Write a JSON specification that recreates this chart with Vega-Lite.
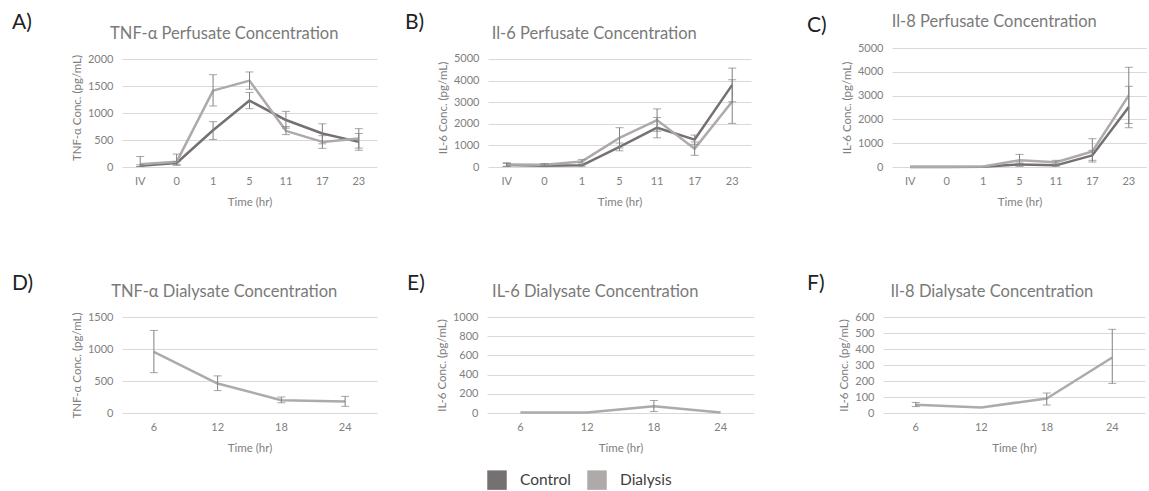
{
  "$schema": "https://vega.github.io/schema/vega-lite/v6.json",
  "padding": {"left": 12, "top": 11, "right": 0, "bottom": 0},
  "background": "white",
  "datasets": {
    "d": [
      {"p": "A", "s": "Control", "t": "IV", "m": 25, "lo": 10, "hi": 40},
      {"p": "A", "s": "Control", "t": "0", "m": 75, "lo": 50, "hi": 100},
      {"p": "A", "s": "Control", "t": "1", "m": 680, "lo": 510, "hi": 840},
      {"p": "A", "s": "Control", "t": "5", "m": 1230, "lo": 1080, "hi": 1380},
      {"p": "A", "s": "Control", "t": "11", "m": 870, "lo": 720, "hi": 1030},
      {"p": "A", "s": "Control", "t": "17", "m": 620, "lo": 430, "hi": 800},
      {"p": "A", "s": "Control", "t": "23", "m": 465, "lo": 310, "hi": 620},
      {"p": "A", "s": "Dialysis", "t": "IV", "m": 50, "lo": 10, "hi": 195},
      {"p": "A", "s": "Dialysis", "t": "0", "m": 95, "lo": 30, "hi": 240},
      {"p": "A", "s": "Dialysis", "t": "1", "m": 1415, "lo": 1130, "hi": 1710},
      {"p": "A", "s": "Dialysis", "t": "5", "m": 1600, "lo": 1440, "hi": 1760},
      {"p": "A", "s": "Dialysis", "t": "11", "m": 670, "lo": 600, "hi": 750},
      {"p": "A", "s": "Dialysis", "t": "17", "m": 465, "lo": 345, "hi": 580},
      {"p": "A", "s": "Dialysis", "t": "23", "m": 530, "lo": 350, "hi": 710},
      {"p": "B", "s": "Control", "t": "IV", "m": 90, "lo": 20, "hi": 160},
      {"p": "B", "s": "Control", "t": "0", "m": 60, "lo": 20, "hi": 100},
      {"p": "B", "s": "Control", "t": "1", "m": 80, "lo": 40, "hi": 120},
      {"p": "B", "s": "Control", "t": "5", "m": 930, "lo": 750, "hi": 1110},
      {"p": "B", "s": "Control", "t": "11", "m": 1820, "lo": 1350, "hi": 2290},
      {"p": "B", "s": "Control", "t": "17", "m": 1270, "lo": 1050, "hi": 1480},
      {"p": "B", "s": "Control", "t": "23", "m": 3800, "lo": 3020, "hi": 4580},
      {"p": "B", "s": "Dialysis", "t": "IV", "m": 120, "lo": 40, "hi": 200},
      {"p": "B", "s": "Dialysis", "t": "0", "m": 100, "lo": 40, "hi": 160},
      {"p": "B", "s": "Dialysis", "t": "1", "m": 260, "lo": 180, "hi": 340},
      {"p": "B", "s": "Dialysis", "t": "5", "m": 1350, "lo": 880, "hi": 1820},
      {"p": "B", "s": "Dialysis", "t": "11", "m": 2170, "lo": 1650, "hi": 2690},
      {"p": "B", "s": "Dialysis", "t": "17", "m": 850, "lo": 540, "hi": 1160},
      {"p": "B", "s": "Dialysis", "t": "23", "m": 3030, "lo": 2020, "hi": 4040},
      {"p": "C", "s": "Control", "t": "IV", "m": 5, "lo": null, "hi": null},
      {"p": "C", "s": "Control", "t": "0", "m": 5, "lo": null, "hi": null},
      {"p": "C", "s": "Control", "t": "1", "m": 10, "lo": null, "hi": null},
      {"p": "C", "s": "Control", "t": "5", "m": 110, "lo": 50, "hi": 170},
      {"p": "C", "s": "Control", "t": "11", "m": 70, "lo": 30, "hi": 110},
      {"p": "C", "s": "Control", "t": "17", "m": 490, "lo": 280, "hi": 700},
      {"p": "C", "s": "Control", "t": "23", "m": 2520, "lo": 1650, "hi": 3390},
      {"p": "C", "s": "Dialysis", "t": "IV", "m": 10, "lo": null, "hi": null},
      {"p": "C", "s": "Dialysis", "t": "0", "m": 10, "lo": null, "hi": null},
      {"p": "C", "s": "Dialysis", "t": "1", "m": 20, "lo": null, "hi": null},
      {"p": "C", "s": "Dialysis", "t": "5", "m": 280, "lo": 30, "hi": 530},
      {"p": "C", "s": "Dialysis", "t": "11", "m": 200, "lo": 120, "hi": 280},
      {"p": "C", "s": "Dialysis", "t": "17", "m": 650, "lo": 210, "hi": 1190},
      {"p": "C", "s": "Dialysis", "t": "23", "m": 3010, "lo": 1830, "hi": 4190},
      {"p": "D", "s": "Dialysis", "t": "6", "m": 955, "lo": 630, "hi": 1290},
      {"p": "D", "s": "Dialysis", "t": "12", "m": 460, "lo": 350, "hi": 580},
      {"p": "D", "s": "Dialysis", "t": "18", "m": 200, "lo": 160, "hi": 250},
      {"p": "D", "s": "Dialysis", "t": "24", "m": 180, "lo": 105, "hi": 260},
      {"p": "E", "s": "Dialysis", "t": "6", "m": 5, "lo": null, "hi": null},
      {"p": "E", "s": "Dialysis", "t": "12", "m": 5, "lo": null, "hi": null},
      {"p": "E", "s": "Dialysis", "t": "18", "m": 70, "lo": 15, "hi": 130},
      {"p": "E", "s": "Dialysis", "t": "24", "m": 5, "lo": null, "hi": null},
      {"p": "F", "s": "Dialysis", "t": "6", "m": 52, "lo": 40, "hi": 66},
      {"p": "F", "s": "Dialysis", "t": "12", "m": 35, "lo": null, "hi": null},
      {"p": "F", "s": "Dialysis", "t": "18", "m": 91, "lo": 50, "hi": 125},
      {"p": "F", "s": "Dialysis", "t": "24", "m": 347, "lo": 185, "hi": 523}
    ]
  },
  "data": {"name": "d"},
  "config": {
    "font": "Lato",
    "view": {"stroke": null},
    "axis": {"labelFont": "Lato", "titleFont": "Lato", "labelFontSize": 11, "titleFontSize": 11.5, "labelColor": "#808080", "titleColor": "#808080", "titleFontWeight": "normal", "ticks": false, "domain": false, "gridColor": "#d9d9d9", "gridWidth": 1},
    "axisX": {"grid": false, "labelAngle": 0, "labelPadding": 8, "titlePadding": 10},
    "axisY": {"grid": true, "labelPadding": 9, "titlePadding": 5},
    "title": {"font": "Lato", "fontSize": 16.5, "fontWeight": "normal", "color": "#7a7a7a"},
    "legend": {"orient": "bottom", "direction": "horizontal", "title": null, "symbolType": "square", "symbolSize": 380, "labelFontSize": 15.5, "labelColor": "#404040", "labelFont": "Lato", "columnPadding": 16, "labelOffset": 13, "offset": 16, "layout": {"bottom": {"anchor": "middle"}}}
  },
  "resolve": {"scale": {"color": "shared"}, "legend": {"color": "shared"}},
  "spacing": 64,
  "vconcat": [
    {
      "spacing": 56,
      "resolve": {"scale": {"color": "shared"}, "legend": {"color": "shared"}},
      "hconcat": [
        {
          "spacing": 28,
          "resolve": {"scale": {"color": "shared"}, "legend": {"color": "shared"}},
          "hconcat": [
            {
              "title": {"text": "A)", "anchor": "start", "frame": "group", "dx": -110, "dy": 11, "fontSize": 21, "color": "#222222", "font": "Lato"},
              "vconcat": [
                {
                  "width": 255, "height": 119,
                  "title": {"text": "TNF-α Perfusate Concentration", "frame": "bounds", "offset": 6},
                  "transform": [{"filter": "datum.p === 'A'"}],
                  "encoding": {"x": {"field": "t", "type": "ordinal", "sort": ["IV", "0", "1", "5", "11", "17", "23"], "title": "Time (hr)"}},
                  "layer": [
                    {"mark": {"type": "line", "strokeWidth": 2.5, "strokeJoin": "round"},
                     "encoding": {
                       "y": {"field": "m", "type": "quantitative", "title": "TNF-α Conc. (pg/mL)", "scale": {"domain": [0, 2204], "nice": false}, "axis": {"values": [0, 500, 1000, 1500, 2000], "format": "d"}},
                       "color": {"field": "s", "type": "nominal", "scale": {"domain": ["Control", "Dialysis"], "range": ["#767171", "#AEAAAA"]},
                                 "legend": {"encode": {"symbols": {"update": {"fill": {"scale": "color", "field": "value"}, "strokeWidth": {"value": 0}}}}}}
                     }},
                    {"transform": [{"filter": "isValid(datum.lo)"}],
                     "mark": {"type": "errorbar", "ticks": true, "size": 8, "thickness": 1, "color": "#808080"},
                     "encoding": {"y": {"field": "lo", "type": "quantitative", "title": "TNF-α Conc. (pg/mL)", "scale": {"domain": [0, 2204], "nice": false}, "axis": {"values": [0, 500, 1000, 1500, 2000], "format": "d"}}, "y2": {"field": "hi"}}}
                  ]
                }
              ]
            },
            {
              "title": {"text": "B)", "anchor": "start", "frame": "group", "dx": -83, "dy": 11, "fontSize": 21, "color": "#222222", "font": "Lato"},
              "vconcat": [
                {
                  "width": 263, "height": 119,
                  "title": {"text": "Il-6 Perfusate Concentration", "frame": "bounds", "offset": 6},
                  "transform": [{"filter": "datum.p === 'B'"}],
                  "encoding": {"x": {"field": "t", "type": "ordinal", "sort": ["IV", "0", "1", "5", "11", "17", "23"], "title": "Time (hr)"}},
                  "layer": [
                    {"mark": {"type": "line", "strokeWidth": 2.5, "strokeJoin": "round"},
                     "encoding": {
                       "y": {"field": "m", "type": "quantitative", "title": "IL-6 Conc. (pg/mL)", "scale": {"domain": [0, 5509], "nice": false}, "axis": {"values": [0, 1000, 2000, 3000, 4000, 5000], "format": "d"}},
                       "color": {"field": "s", "type": "nominal", "scale": {"domain": ["Control", "Dialysis"], "range": ["#767171", "#AEAAAA"]}}
                     }},
                    {"transform": [{"filter": "isValid(datum.lo)"}],
                     "mark": {"type": "errorbar", "ticks": true, "size": 8, "thickness": 1, "color": "#808080"},
                     "encoding": {"y": {"field": "lo", "type": "quantitative", "title": "IL-6 Conc. (pg/mL)", "scale": {"domain": [0, 5509], "nice": false}, "axis": {"values": [0, 1000, 2000, 3000, 4000, 5000], "format": "d"}}, "y2": {"field": "hi"}}}
                  ]
                }
              ]
            }
          ]
        },
        {
          "title": {"text": "C)", "anchor": "start", "frame": "group", "dx": -85, "dy": 26, "fontSize": 21, "color": "#222222", "font": "Lato"},
          "vconcat": [
            {
              "width": 255, "height": 119,
              "title": {"text": "Il-8 Perfusate Concentration", "frame": "bounds", "offset": 12},
              "transform": [{"filter": "datum.p === 'C'"}],
              "encoding": {"x": {"field": "t", "type": "ordinal", "sort": ["IV", "0", "1", "5", "11", "17", "23"], "title": "Time (hr)"}},
              "layer": [
                {"mark": {"type": "line", "strokeWidth": 2.5, "strokeJoin": "round"},
                 "encoding": {
                   "y": {"field": "m", "type": "quantitative", "title": "IL-6 Conc. (pg/mL)", "scale": {"domain": [0, 5000], "nice": false}, "axis": {"values": [0, 1000, 2000, 3000, 4000, 5000], "format": "d"}},
                   "color": {"field": "s", "type": "nominal", "scale": {"domain": ["Control", "Dialysis"], "range": ["#767171", "#AEAAAA"]}}
                 }},
                {"transform": [{"filter": "isValid(datum.lo)"}],
                 "mark": {"type": "errorbar", "ticks": true, "size": 8, "thickness": 1, "color": "#808080"},
                 "encoding": {"y": {"field": "lo", "type": "quantitative", "title": "IL-6 Conc. (pg/mL)", "scale": {"domain": [0, 5000], "nice": false}, "axis": {"values": [0, 1000, 2000, 3000, 4000, 5000], "format": "d"}}, "y2": {"field": "hi"}}}
              ]
            }
          ]
        }
      ]
    },
    {
      "spacing": 53,
      "resolve": {"scale": {"color": "shared"}, "legend": {"color": "shared"}},
      "hconcat": [
        {
          "spacing": 30,
          "resolve": {"scale": {"color": "shared"}, "legend": {"color": "shared"}},
          "hconcat": [
            {
              "title": {"text": "D)", "anchor": "start", "frame": "group", "dx": -110, "dy": 14, "fontSize": 21, "color": "#222222", "font": "Lato"},
              "vconcat": [
                {
                  "width": 255, "height": 96,
                  "title": {"text": "TNF-α Dialysate Concentration", "frame": "bounds", "offset": 11},
                  "transform": [{"filter": "datum.p === 'D'"}],
                  "encoding": {"x": {"field": "t", "type": "ordinal", "sort": ["6", "12", "18", "24"], "title": "Time (hr)"}},
                  "layer": [
                    {"mark": {"type": "line", "strokeWidth": 2.5, "strokeJoin": "round"},
                     "encoding": {
                       "y": {"field": "m", "type": "quantitative", "title": "TNF-α Conc. (pg/mL)", "scale": {"domain": [0, 1500], "nice": false}, "axis": {"values": [0, 500, 1000, 1500], "format": "d"}},
                       "color": {"field": "s", "type": "nominal", "scale": {"domain": ["Control", "Dialysis"], "range": ["#767171", "#AEAAAA"]}}
                     }},
                    {"transform": [{"filter": "isValid(datum.lo)"}],
                     "mark": {"type": "errorbar", "ticks": true, "size": 8, "thickness": 1, "color": "#808080"},
                     "encoding": {"y": {"field": "lo", "type": "quantitative", "title": "TNF-α Conc. (pg/mL)", "scale": {"domain": [0, 1500], "nice": false}, "axis": {"values": [0, 500, 1000, 1500], "format": "d"}}, "y2": {"field": "hi"}}}
                  ]
                }
              ]
            },
            {
              "title": {"text": "E)", "anchor": "start", "frame": "group", "dx": -80, "dy": 14, "fontSize": 21, "color": "#222222", "font": "Lato"},
              "vconcat": [
                {
                  "width": 267, "height": 96,
                  "title": {"text": "IL-6 Dialysate Concentration", "frame": "bounds", "offset": 11},
                  "transform": [{"filter": "datum.p === 'E'"}],
                  "encoding": {"x": {"field": "t", "type": "ordinal", "sort": ["6", "12", "18", "24"], "title": "Time (hr)"}},
                  "layer": [
                    {"mark": {"type": "line", "strokeWidth": 2.5, "strokeJoin": "round"},
                     "encoding": {
                       "y": {"field": "m", "type": "quantitative", "title": "IL-6 Conc. (pg/mL)", "scale": {"domain": [0, 1000], "nice": false}, "axis": {"values": [0, 200, 400, 600, 800, 1000], "format": "d"}},
                       "color": {"field": "s", "type": "nominal", "scale": {"domain": ["Control", "Dialysis"], "range": ["#767171", "#AEAAAA"]}}
                     }},
                    {"transform": [{"filter": "isValid(datum.lo)"}],
                     "mark": {"type": "errorbar", "ticks": true, "size": 8, "thickness": 1, "color": "#808080"},
                     "encoding": {"y": {"field": "lo", "type": "quantitative", "title": "IL-6 Conc. (pg/mL)", "scale": {"domain": [0, 1000], "nice": false}, "axis": {"values": [0, 200, 400, 600, 800, 1000], "format": "d"}}, "y2": {"field": "hi"}}}
                  ]
                }
              ]
            }
          ]
        },
        {
          "title": {"text": "F)", "anchor": "start", "frame": "group", "dx": -76, "dy": 14, "fontSize": 21, "color": "#222222", "font": "Lato"},
          "vconcat": [
            {
              "width": 262, "height": 96,
              "title": {"text": "Il-8 Dialysate Concentration", "frame": "bounds", "offset": 11},
              "transform": [{"filter": "datum.p === 'F'"}],
              "encoding": {"x": {"field": "t", "type": "ordinal", "sort": ["6", "12", "18", "24"], "title": "Time (hr)"}},
              "layer": [
                {"mark": {"type": "line", "strokeWidth": 2.5, "strokeJoin": "round"},
                 "encoding": {
                   "y": {"field": "m", "type": "quantitative", "title": "IL-6 Conc. (pg/mL)", "scale": {"domain": [0, 600], "nice": false}, "axis": {"values": [0, 100, 200, 300, 400, 500, 600], "format": "d"}},
                   "color": {"field": "s", "type": "nominal", "scale": {"domain": ["Control", "Dialysis"], "range": ["#767171", "#AEAAAA"]}}
                 }},
                {"transform": [{"filter": "isValid(datum.lo)"}],
                 "mark": {"type": "errorbar", "ticks": true, "size": 8, "thickness": 1, "color": "#808080"},
                 "encoding": {"y": {"field": "lo", "type": "quantitative", "title": "IL-6 Conc. (pg/mL)", "scale": {"domain": [0, 600], "nice": false}, "axis": {"values": [0, 100, 200, 300, 400, 500, 600], "format": "d"}}, "y2": {"field": "hi"}}}
              ]
            }
          ]
        }
      ]
    }
  ]
}
